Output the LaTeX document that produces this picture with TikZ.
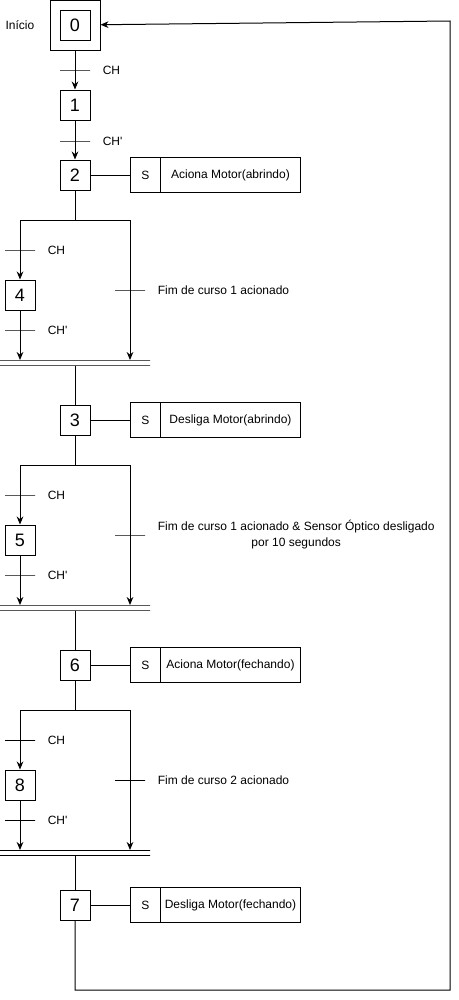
\documentclass[tikz,border=0pt]{standalone}
\usepackage{fontspec}
\setmainfont{Liberation Sans}
\usetikzlibrary{positioning, arrows.meta}

\begin{document}
\begin{tikzpicture}[
    x=0.75pt, y=-0.75pt,
    >={Stealth[length=6pt, width=5pt]},
    every node/.style={font=\fontsize{9pt}{12pt}\selectfont},
    stepbox/.style={draw, line width=0.75pt, minimum size=22.5pt, inner sep=0pt,
                    font=\fontsize{13.5pt}{16pt}\selectfont},
    initbox/.style={draw, line width=0.75pt, minimum size=37.5pt, inner sep=0pt},
    actqual/.style={draw, line width=0.75pt, minimum width=22.5pt, minimum height=26.25pt,
                    inner sep=0pt, outer sep=0pt},
    actbox/.style={draw, line width=0.75pt, minimum width=105pt, minimum height=26.25pt,
                   inner sep=0pt, outer sep=0pt},
    trans/.style={draw, line width=0.75pt, minimum width=22.5pt, minimum height=0pt, inner sep=0pt},
    joinbar/.style={draw, line width=0.75pt, minimum width=112.5pt, minimum height=0pt, inner sep=0pt},
    link/.style={line width=0.75pt},
    arrow/.style={->, line width=0.75pt},
    condtxt/.style={inner sep=0pt, align=center},
]
\useasboundingbox (0,0) rectangle (459,1000);
% initial step
\node[initbox] (n_0_outer) at (75,25) {};
\node[stepbox] (n_0) at (75,25) {0};
\node[condtxt, left=11.25pt of n_0_outer] (n_0_txt) {Início};
\node[trans] (t_1) at (75,70) {};
\node[condtxt, right=9pt of t_1] {CH};
\node[stepbox] (n_1) at (75,105) {1};
\node[trans] (t_2) at (75,141) {};
\node[condtxt, right=9pt of t_2] {CH\textquotesingle};
\node[stepbox] (n_2) at (75,175) {2};
\node[actqual, right=30pt of n_2] (n_2_s) {S};
\node[actbox, right=0pt of n_2_s] (n_2_act) {Aciona Motor(abrindo)};
% first branch
\coordinate (d_1) at (75,220);
\coordinate (d_1_l) at (20,220);
\coordinate (d_1_r) at (130,220);
\node[trans] (t_3) at (20,250) {};
\node[condtxt, right=9pt of t_3] {CH};
\node[stepbox] (n_4) at (20,295) {4};
\node[trans] (t_4) at (20,330) {};
\node[condtxt, right=9pt of t_4] {CH\textquotesingle};
\node[trans] (t_5) at (130,290) {};
\node[condtxt, right=9pt of t_5] {Fim de curso 1 acionado};
\node[joinbar] (j_1) at (75,360) {};
\node[joinbar] (j_1_b) at (75,365) {};
\node[stepbox] (n_3) at (75,420) {3};
\node[actqual, right=30pt of n_3] (n_3_s) {S};
\node[actbox, right=0pt of n_3_s] (n_3_act) {Desliga Motor(abrindo)};
% second branch
\coordinate (d_2) at (75,465);
\coordinate (d_2_l) at (20,465);
\coordinate (d_2_r) at (130,465);
\node[trans] (t_6) at (20,495) {};
\node[condtxt, right=9pt of t_6] {CH};
\node[stepbox] (n_5) at (20,540) {5};
\node[trans] (t_7) at (20,575) {};
\node[condtxt, right=9pt of t_7] {CH\textquotesingle};
\node[trans] (t_8) at (130,535) {};
\node[condtxt, right=9pt of t_8] {Fim de curso 1 acionado \& Sensor Óptico desligado\\por 10 segundos};
\node[joinbar] (j_2) at (75,605) {};
\node[joinbar] (j_2_b) at (75,610) {};
\node[stepbox] (n_6) at (75,665) {6};
\node[actqual, right=30pt of n_6] (n_6_s) {S};
\node[actbox, right=0pt of n_6_s] (n_6_act) {Aciona Motor(fechando)};
% third branch
\coordinate (d_3) at (75,710);
\coordinate (d_3_l) at (20,710);
\coordinate (d_3_r) at (130,710);
\node[trans] (t_9) at (20,740) {};
\node[condtxt, right=9pt of t_9] {CH};
\node[stepbox] (n_8) at (20,785) {8};
\node[trans] (t_10) at (20,820) {};
\node[condtxt, right=9pt of t_10] {CH\textquotesingle};
\node[trans] (t_11) at (130,780) {};
\node[condtxt, right=9pt of t_11] {Fim de curso 2 acionado};
\node[joinbar] (j_3) at (75,850) {};
\node[joinbar] (j_3_b) at (75,855) {};
\node[stepbox] (n_7) at (75,905) {7};
\node[actqual, right=30pt of n_7] (n_7_s) {S};
\node[actbox, right=0pt of n_7_s] (n_7_act) {Desliga Motor(fechando)};
% return path
\coordinate (r_b) at (450,990);
\coordinate (r_t) at (450,21);
% connectors
\draw[arrow] (n_0_outer) -- (n_1);
\draw[arrow] (n_1) -- (n_2);
\draw[link] (n_2) -- (n_2_s);
\draw[link] (n_2) -- (d_1);
\draw[link] (d_1_l) -- (d_1_r);
\draw[arrow] (d_1_l) -- (n_4);
\draw[arrow] (n_4) -- (n_4 |- j_1);
\draw[arrow] (d_1_r) -- (d_1_r |- j_1);
\draw[link] (j_1_b) -- (n_3);
\draw[link] (n_3) -- (n_3_s);
\draw[link] (n_3) -- (d_2);
\draw[link] (d_2_l) -- (d_2_r);
\draw[arrow] (d_2_l) -- (n_5);
\draw[arrow] (n_5) -- (n_5 |- j_2);
\draw[arrow] (d_2_r) -- (d_2_r |- j_2);
\draw[link] (j_2_b) -- (n_6);
\draw[link] (n_6) -- (n_6_s);
\draw[link] (n_6) -- (d_3);
\draw[link] (d_3_l) -- (d_3_r);
\draw[arrow] (d_3_l) -- (n_8);
\draw[arrow] (n_8) -- (n_8 |- j_3);
\draw[arrow] (d_3_r) -- (d_3_r |- j_3);
\draw[link] (j_3_b) -- (n_7);
\draw[link] (n_7) -- (n_7_s);
\draw[arrow] (n_7) |- (r_b) -- (r_t) -- (n_0_outer);
\end{tikzpicture}
\end{document}
